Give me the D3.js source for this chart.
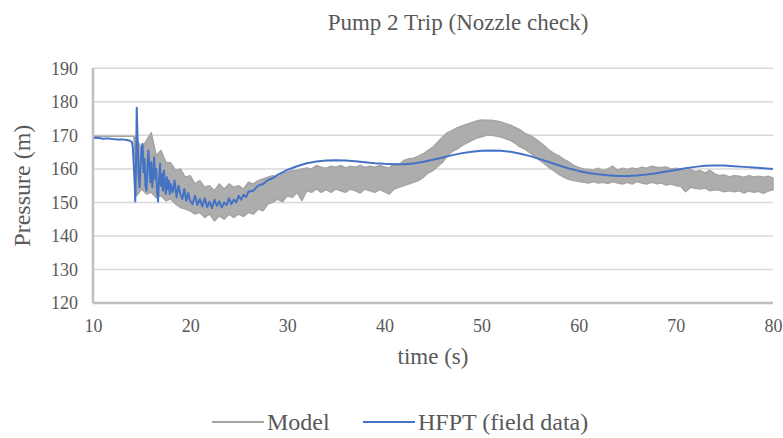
<!DOCTYPE html>
<html lang="en">
<head>
    <meta charset="UTF-8">
    <title>Pump 2 Trip (Nozzle check)</title>
    <script src="https://d3js.org/d3.v7.min.js"></script>
    <style>
        body { margin: 0; background: #fff; }
        text { font-family: "Liberation Serif", "Times New Roman", serif; fill: #595959; }
        .tick text { font-size: 18px; }
        .grid line { stroke: #d9d9d9; stroke-width: 1.5px; }
    </style>
</head>
<body>
    <svg id="chart" width="783" height="438"></svg>

    <script>
        const width = 783;
        const height = 438;

        const xTicks = [10, 20, 30, 40, 50, 60, 70, 80];
        const yTicks = [120, 130, 140, 150, 160, 170, 180, 190];

        // HFPT (field data)
        const hfptTime = [10, 10.5, 11, 11.5, 12, 12.5, 13, 13.5, 13.8, 14.0, 14.1, 14.2, 14.3, 14.35, 14.45, 14.5,
            14.6, 14.7, 14.8, 14.9, 15.0, 15.1, 15.2, 15.3, 15.4, 15.5, 15.6, 15.7, 15.8, 15.9, 16.0, 16.1, 16.2,
            16.3, 16.4, 16.5, 16.6, 16.7, 16.8, 16.9, 17.0, 17.1, 17.2, 17.3, 17.4, 17.5, 17.6, 17.7, 17.8, 17.9,
            18.0, 18.2, 18.4, 18.6, 18.8, 19.0, 19.2, 19.4, 19.6, 19.8, 20.0, 20.25, 20.5, 20.75, 21, 21.25, 21.5,
            21.75, 22, 22.25, 22.5, 22.75, 23, 23.25, 23.5, 23.75, 24, 24.25, 24.5, 24.75, 25, 25.25, 25.5, 25.75,
            26, 26.5, 27, 27.5, 28, 28.5, 29, 30, 31, 32, 33, 34, 35, 36, 37, 38, 39, 40, 41, 42, 43, 44, 45, 46,
            47, 48, 49, 50, 51, 52, 53, 54, 55, 56, 57, 58, 59, 60, 61, 62, 63, 64, 65, 66, 67, 68, 69, 70, 71, 72,
            73, 74, 75, 76, 77, 78, 79, 80];
        const hfptValue = [169.2, 169.3, 169.0, 169.1, 168.9, 168.8, 168.8, 168.6, 168.4, 168.0, 166.5, 161, 155, 150.3, 165, 178.2,
            168, 158, 154.5, 161, 166, 167.5, 159, 163, 155, 153.5, 160, 165.5, 161, 156, 162, 154.5, 158,
            163.5, 157, 160, 153, 150.3, 157, 161.5, 155, 158.5, 153.5, 159.5, 155.5, 152.5, 157.5, 154, 156.5, 152.5,
            155.5, 153, 156.5, 151.5, 155, 152.5, 151, 154, 150.5, 152.8, 150.5, 149.5, 152, 149.2, 151, 148.8, 151.2,
            148.6, 150.2, 148.3, 150.8, 149, 150.3, 148.5, 150, 149.2, 151.2, 149.5, 150.8, 150, 152, 150.8, 152.3, 151.6,
            153.2, 153.5, 155, 155.5, 156.7, 157.2, 158.2, 159.7, 160.8, 161.7, 162.2, 162.5, 162.6, 162.5, 162.3, 162.0, 161.7, 161.5, 161.4, 161.4, 161.6, 162.1, 162.7, 163.4,
            164.1, 164.7, 165.1, 165.4, 165.5, 165.4, 165.1, 164.5, 163.8, 162.9, 162.0, 161.0, 160.1, 159.4, 158.8, 158.4, 158.1, 157.9, 157.9, 158.0, 158.3, 158.7, 159.2, 159.7, 160.2, 160.6,
            160.9, 161.0, 161.0, 160.8, 160.6, 160.4, 160.2, 160.0];

        // Model - noisy band, lower and upper envelope
        const modelTime = [10, 14.2, 14.5, 15, 15.5, 16, 16.5, 17, 17.5, 18, 18.5, 19, 19.5, 20, 20.5, 21, 21.5, 22, 22.5,
            23, 23.5, 24, 24.5, 25, 25.5, 26, 26.5, 27, 27.5, 28, 28.5, 29, 29.5, 30, 30.5, 31, 31.5, 32, 32.5, 33,
            33.5, 34, 34.5, 35, 35.5, 36, 36.5, 37, 37.5, 38, 38.5, 39, 39.5, 40, 40.5, 41, 41.5, 42, 42.5, 43, 43.5,
            44, 44.5, 45, 45.5, 46, 46.5, 47, 47.5, 48, 48.5, 49, 49.5, 50, 50.5, 51, 51.5, 52, 52.5, 53, 53.5, 54,
            54.5, 55, 55.5, 56, 56.5, 57, 57.5, 58, 58.5, 59, 59.5, 60, 60.5, 61, 61.5, 62, 62.5, 63, 63.5, 64, 64.5,
            65, 65.5, 66, 66.5, 67, 67.5, 68, 68.5, 69, 69.5, 70, 70.5, 71, 71.5, 72, 72.5, 73, 73.5, 74, 74.5, 75,
            75.5, 76, 76.5, 77, 77.5, 78, 78.5, 79, 79.5, 80];
        const modelLow = [169.7, 169.7, 152, 154, 152.5, 153, 151.5, 152, 150.5, 151, 149.5, 148.5, 148, 147.5, 146.5, 147, 145.5, 146.5, 144.5,
            146, 145, 146.5, 145.5, 146.5, 145.8, 147, 146.5, 148, 147.5, 149.5, 150, 151, 150.2, 152, 151.5, 153, 150.5, 153.5, 153, 154,
            153, 153.8, 153, 154, 153.5, 153, 154, 153.5, 152.8, 154, 153.5, 153, 153.8, 153.2, 152.5, 154, 154.5, 155, 155.5, 156, 156.5,
            157.5, 158.8, 159.5, 160.8, 162, 164, 165.2, 166, 167, 167.8, 168.5, 169.2, 169.6, 170, 170, 169.8, 169.5, 169, 168.5, 167.5, 166.5,
            165.8, 164.8, 163.6, 162.5, 161.5, 160.3, 159.3, 158.3, 157.5, 156.8, 156.5, 156.2, 156, 155.8, 156.2, 155.8, 156, 155.6, 156.2, 155.8, 155.5,
            156, 155.5, 156.2, 155.8, 155.5, 156, 155.6, 155.8, 155.2, 155.5, 155, 154.8, 153.2, 154.5, 154.2, 154, 154.3, 153.5, 153.8, 153.6, 153.2,
            153.5, 153.2, 153.5, 152.8, 153.4, 153, 153.3, 152.7, 153.4, 153.8];
        const modelHigh = [169.7, 169.7, 169, 166, 168.5, 170.8, 164, 165.5, 162, 161.8, 159.5, 160, 157.5, 158, 155.5, 156.5, 154.5, 155, 153.5,
            155.5, 154, 155.5, 154.5, 155, 154, 156, 155.5, 156.5, 157, 157.5, 158, 157.5, 158.5, 159, 159.5, 159.5, 160, 160.3, 160, 161,
            160.5, 160.2, 160.8, 160.5, 161, 160.3, 160.8, 160.5, 161, 160.4, 160.8, 160.5, 161, 160.6, 160.3, 161.5, 161.2, 162.5, 163, 163.2, 163.8,
            164.5, 165.5, 166.5, 168, 169.5, 170.8, 171.5, 172.3, 172.8, 173.3, 173.8, 174.3, 174.6, 174.5, 174.5, 174.3, 174, 173.5, 173, 172.3, 171.6,
            170.5, 170, 169, 168, 166.8, 165.5, 164.5, 163.8, 162.8, 162, 161, 160.4, 160, 159.8, 159.6, 160.2, 159.5, 160, 160.8, 159.6, 160.2,
            159.8, 160.3, 160, 160.5, 160.2, 160.8, 160.5, 160.4, 160.6, 160, 160.2, 159.8, 159.5, 159.8, 159.2, 159.5, 158.8, 159.6, 158.5, 158, 158.2,
            157.6, 158, 157.8, 157.5, 158, 157.6, 157.8, 157.5, 157.8, 157.3];

        const model = modelTime.map((t, i) => ({ t: t, lo: modelLow[i], hi: modelHigh[i] }));
        const hfpt = hfptTime.map((t, i) => ({ t: t, v: hfptValue[i] }));

        const plotLeft = 93, plotRight = 773, plotTop = 68.3, plotBottom = 303;

        const svg = d3.select("#chart");

        const x = d3.scaleLinear().domain([10, 80]).range([plotLeft, plotRight]);
        const y = d3.scaleLinear().domain([120, 190]).range([plotBottom, plotTop]);

        // gridlines
        svg.append("g")
            .attr("class", "grid")
            .selectAll("line")
            .data(yTicks.slice(1))
            .enter().append("line")
            .attr("x1", plotLeft)
            .attr("x2", plotRight)
            .attr("y1", d => y(d))
            .attr("y2", d => y(d));

        // model band
        const area = d3.area()
            .x(d => x(d.t))
            .y0(d => y(d.lo))
            .y1(d => y(d.hi));

        svg.append("path")
            .datum(model)
            .attr("d", area)
            .attr("fill", "#adadad")
            .attr("stroke", "#a5a5a5")
            .attr("stroke-width", 1.5)
            .attr("stroke-linejoin", "round");

        // field data
        const line = d3.line()
            .x(d => x(d.t))
            .y(d => y(d.v));

        svg.append("path")
            .datum(hfpt)
            .attr("d", line)
            .attr("fill", "none")
            .attr("stroke", "#4472c4")
            .attr("stroke-width", 2)
            .attr("stroke-linejoin", "round");

        // axes
        const xAxis = svg.append("g")
            .attr("transform", `translate(0, ${plotBottom})`)
            .call(d3.axisBottom(x).tickValues(xTicks).tickSize(0).tickPadding(16));
        xAxis.attr("font-family", null).select(".domain").remove();

        const yAxis = svg.append("g")
            .attr("transform", `translate(${plotLeft}, 0)`)
            .call(d3.axisLeft(y).tickValues(yTicks).tickSize(0).tickPadding(15));
        yAxis.attr("font-family", null).select(".domain").remove();

        svg.append("line")
            .attr("x1", plotLeft).attr("x2", plotLeft)
            .attr("y1", plotTop).attr("y2", plotBottom)
            .attr("stroke", "#bfbfbf").attr("stroke-width", 2.5);
        svg.append("line")
            .attr("x1", plotLeft).attr("x2", plotRight)
            .attr("y1", plotBottom).attr("y2", plotBottom)
            .attr("stroke", "#bfbfbf").attr("stroke-width", 2.5);

        // titles
        svg.append("text")
            .attr("x", 458)
            .attr("y", 29.5)
            .attr("text-anchor", "middle")
            .style("font-size", "23px")
            .text("Pump 2 Trip (Nozzle check)");

        svg.append("text")
            .attr("x", (plotLeft + plotRight) / 2)
            .attr("y", 364)
            .attr("text-anchor", "middle")
            .style("font-size", "23px")
            .text("time (s)");

        svg.append("text")
            .attr("transform", `translate(30, ${(plotTop + plotBottom) / 2}) rotate(-90)`)
            .attr("text-anchor", "middle")
            .style("font-size", "24px")
            .text("Pressure (m)");

        // legend
        const legendItems = [
            { name: "Model", color: "#a5a5a5", x: 212 },
            { name: "HFPT (field data)", color: "#4472c4", x: 363 }
        ];
        const legend = svg.selectAll(".legend")
            .data(legendItems)
            .enter().append("g")
            .attr("class", "legend")
            .attr("transform", d => `translate(${d.x}, 422)`);
        legend.append("line")
            .attr("x1", 0).attr("x2", 52)
            .attr("stroke", d => d.color)
            .attr("stroke-width", 2);
        legend.append("text")
            .attr("x", 55)
            .attr("dy", "0.35em")
            .style("font-size", "24px")
            .text(d => d.name);
    </script>
</body>
</html>
